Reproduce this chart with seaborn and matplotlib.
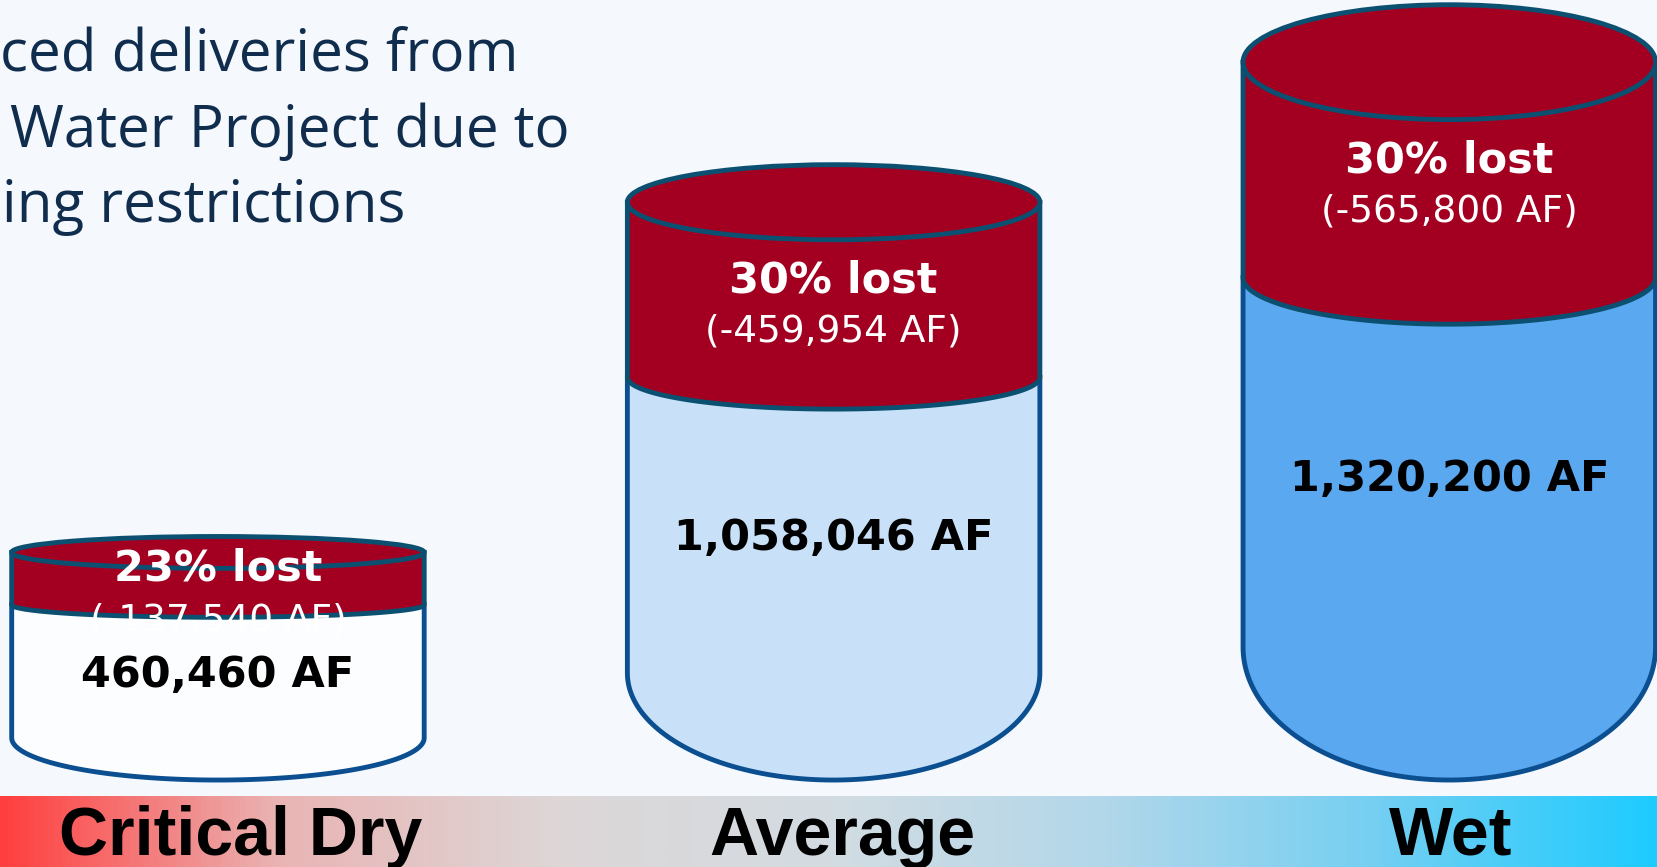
import numpy as np
import pandas as pd
import matplotlib
matplotlib.use("Agg")
import matplotlib.pyplot as plt
import matplotlib.transforms as mtransforms
from matplotlib.patches import Polygon, Ellipse
import seaborn as sns

# data
categories = ["Critical Dry", "Average", "Wet"]
delivered_af = [460460, 1058046, 1320200]
lost_af = [137540, 459954, 565800]
lost_pct = [23, 30, 30]
title_lines = ["ced deliveries from", "Water Project due to", "ing restrictions"]

df = pd.DataFrame({"category": categories, "delivered": delivered_af,
                   "lost": lost_af, "pct": lost_pct})
df["total"] = df["delivered"] + df["lost"]

# styling
body_colors = ["#fbfdff", "#c8e1f8", "#5aa8f0"]
top_depth = [0.07, 0.065, 0.08]      # top ellipse half-height, share of total
band_depth = [0.055, 0.055, 0.065]   # red/body boundary curve, share of total
bottom_depth = 0.185                 # rounded bottom, share of total
half_width = 0.335
label_shift = [0.037, 0.015, 0.003]
red = "#a30021"
rim = "#0b5070"
side = "#0b4f91"
band_stops = ["#ff3f3f", "#eab4b4", "#ddd6d6", "#d3dce2", "#b2d7ea", "#74cff2", "#1ecbff"]

sns.set_theme(style="white")
plt.rcParams["font.family"] = ["DejaVu Sans"]

fig = plt.figure(figsize=(16.58, 8.67), dpi=100)
fig.patch.set_facecolor("#f5f8fc")

# gradient strip along the bottom
bg = fig.add_axes([0, 0, 1, 1], zorder=0)
bg.set_axis_off()
band_cmap = sns.blend_palette(band_stops, as_cmap=True)
bg.imshow(np.linspace(0, 1, 600)[None, :], cmap=band_cmap, aspect="auto",
          extent=[0, 1, 0, 0.081])
bg.set_xlim(0, 1)
bg.set_ylim(0, 1)

ax = fig.add_axes([0, 0, 1, 1], zorder=1)
ax.patch.set_alpha(0)
ax.set_axis_off()
span = df["total"].max() / 0.828
ax.set_xlim(-0.354, 2.339)
ax.set_ylim(-0.1003 * span, 0.8997 * span)

theta = np.linspace(0, np.pi, 120)
for i, row in df.iterrows():
    cx = i
    w = half_width
    T = row["total"]
    D = row["delivered"]
    e_t = top_depth[i] * T
    e_b = band_depth[i] * T
    d = bottom_depth * T

    arc_x = cx - w * np.cos(theta)
    body = [(cx - w, D), (cx - w, d)] + list(zip(arc_x, d - d * np.sin(theta))) + \
           [(cx + w, d), (cx + w, D)]
    ax.add_patch(Polygon(body, closed=True, facecolor=body_colors[i],
                         edgecolor=side, lw=3.5, zorder=2))

    band = [(cx - w, T), (cx - w, D)] + list(zip(arc_x, D - e_b * np.sin(theta))) + \
           [(cx + w, D), (cx + w, T)]
    ax.add_patch(Polygon(band, closed=True, facecolor=red,
                         edgecolor=rim, lw=3.5, zorder=3))
    ax.add_patch(Ellipse((cx, T), 2 * w, 2 * e_t, facecolor=red,
                         edgecolor=rim, lw=3.5, zorder=4))

    mid = (T + D) / 2
    ax.annotate(f"{row['pct']}% lost", xy=(cx, mid), xytext=(0, 7),
                textcoords="offset points", ha="center", va="center",
                color="white", fontsize=31, fontweight="bold", zorder=5)
    ax.annotate(f"(-{row['lost']:,} AF)", xy=(cx, mid), xytext=(0, -30),
                textcoords="offset points", ha="center", va="center",
                color="white", fontsize=27, zorder=5)
    ax.text(cx, 0.6 * D, f"{row['delivered']:,} AF", ha="center", va="center",
            color="black", fontsize=31, fontweight="bold", zorder=5)

trans = mtransforms.blended_transform_factory(ax.transData, ax.transAxes)
for i, name in enumerate(categories):
    ax.text(i + label_shift[i], 0.014, name, transform=trans, ha="center",
            va="baseline", fontsize=49, fontweight="bold", color="black",
            family=["Liberation Sans", "DejaVu Sans"], zorder=5)

# headline text, cut off at the left edge in the source
title_x = [0.0, 0.006, 0.001]
title_y = [0.918, 0.8304, 0.744]
for txt, x, y in zip(title_lines, title_x, title_y):
    fig.text(x, y, txt, ha="left", va="baseline", fontsize=42,
             color="#102d4e", family=["Open Sans", "DejaVu Sans"])

fig.savefig("out.png", dpi=100, facecolor=fig.get_facecolor())
